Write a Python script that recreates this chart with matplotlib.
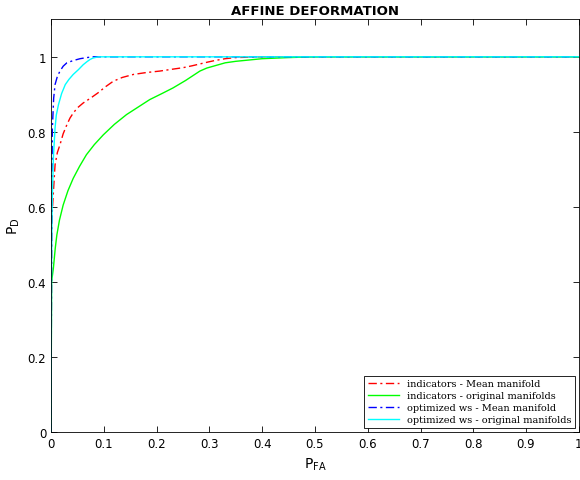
import matplotlib
matplotlib.use("Agg")
import matplotlib.pyplot as plt

# ROC data (x = P_FA, y = P_D)
red_x = [0, 0.001, 0.003, 0.0076, 0.012, 0.017, 0.023, 0.03, 0.036, 0.042, 0.05, 0.061, 0.075, 0.089,
         0.103, 0.118, 0.135, 0.156, 0.18, 0.206, 0.23, 0.25, 0.267, 0.282, 0.297, 0.31, 0.33, 0.35, 0.4, 1.0]
red_y = [0, 0.55, 0.605, 0.712, 0.745, 0.766, 0.795, 0.819, 0.837, 0.85, 0.864, 0.877, 0.89, 0.904,
         0.92, 0.935, 0.945, 0.953, 0.958, 0.962, 0.967, 0.971, 0.976, 0.981, 0.986, 0.99, 0.995, 0.998, 1.0, 1.0]

green_x = [0, 0.001, 0.0044, 0.008, 0.011, 0.016, 0.023, 0.032, 0.042, 0.054, 0.067, 0.082, 0.099, 0.12,
           0.143, 0.165, 0.187, 0.21, 0.231, 0.255, 0.282, 0.295, 0.31, 0.33, 0.35, 0.4, 0.45, 0.5, 1.0]
green_y = [0, 0.4, 0.436, 0.49, 0.525, 0.565, 0.605, 0.643, 0.676, 0.708, 0.739, 0.766, 0.792, 0.82,
           0.846, 0.866, 0.886, 0.902, 0.917, 0.937, 0.962, 0.97, 0.976, 0.984, 0.988, 0.995, 0.998, 1.0, 1.0]

blue_x = [0, 0.001, 0.0025, 0.005, 0.0076, 0.012, 0.017, 0.023, 0.03, 0.042, 0.055, 0.068, 0.08, 1.0]
blue_y = [0, 0.5, 0.81, 0.89, 0.926, 0.948, 0.962, 0.975, 0.984, 0.99, 0.995, 0.998, 1.0, 1.0]

cyan_x = [0, 0.001, 0.002, 0.0044, 0.0076, 0.01, 0.014, 0.02, 0.027, 0.034, 0.042, 0.052, 0.061, 0.068,
          0.074, 0.08, 0.09, 1.0]
cyan_y = [0, 0.45, 0.6, 0.73, 0.81, 0.845, 0.872, 0.902, 0.926, 0.94, 0.953, 0.966, 0.979, 0.987,
          0.993, 0.997, 1.0, 1.0]

labels = ["indicators - Mean manifold", "indicators - original manifolds",
          "optimized ws - Mean manifold", "optimized ws - original manifolds"]

fig = plt.figure(figsize=(5.8, 4.81), dpi=100)
ax = fig.add_axes([0.088, 0.0998, 0.910, 0.858])

dashdot = (0, (6, 2.5, 1.5, 2.5))
ax.plot(red_x, red_y, color="red", linestyle=dashdot, linewidth=1.0, label=labels[0])
ax.plot(green_x, green_y, color="#00ff00", linestyle="-", linewidth=1.0, label=labels[1])
ax.plot(blue_x, blue_y, color="blue", linestyle=dashdot, linewidth=1.0, label=labels[2])
ax.plot(cyan_x, cyan_y, color="cyan", linestyle="-", linewidth=1.0, label=labels[3])

ax.set_xlim(0, 1)
ax.set_ylim(0, 1.1)
ax.set_xticks([i / 10 for i in range(11)])
ax.set_xticklabels(["0", "0.1", "0.2", "0.3", "0.4", "0.5", "0.6", "0.7", "0.8", "0.9", "1"])
ax.set_yticks([0, 0.2, 0.4, 0.6, 0.8, 1.0])
ax.set_yticklabels(["0", "0.2", "0.4", "0.6", "0.8", "1"])
ax.tick_params(direction="in", top=True, right=True, labelsize=8.5, length=4, width=0.6)
for s in ax.spines.values():
    s.set_linewidth(0.6)

ax.set_xlabel(r"P$_{\mathregular{FA}}$", fontsize=10)
ax.set_ylabel(r"P$_{\mathregular{D}}$", fontsize=10)
ax.set_title("AFFINE DEFORMATION", fontsize=9.5, fontweight="bold", pad=4)

leg = ax.legend(loc="lower right", prop={"family": "DejaVu Serif", "size": 7},
                fancybox=False, edgecolor="black", framealpha=1,
                handlelength=3.2, borderaxespad=0.4, labelspacing=0.3)
leg.get_frame().set_linewidth(0.6)

fig.savefig("out.png", dpi=100)
